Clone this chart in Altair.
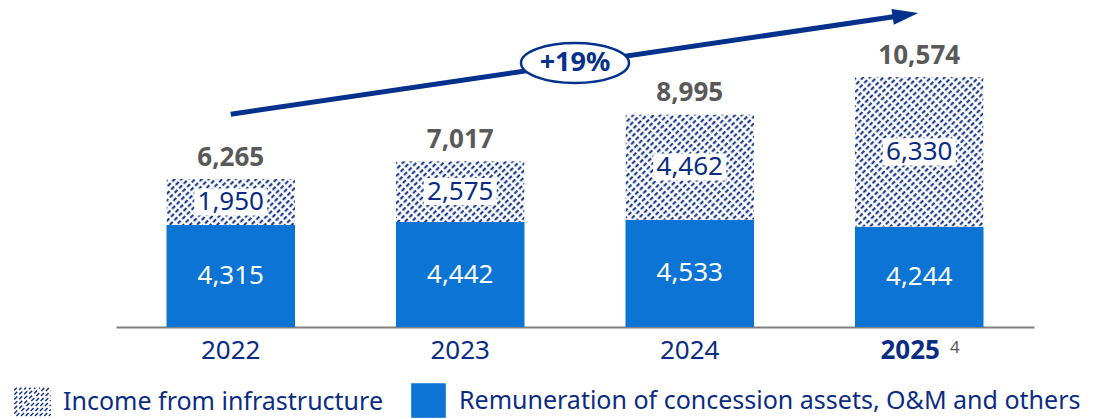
import urllib.parse
import altair as alt
import pandas as pd

# ---------------- data ----------------
years = ["2022", "2023", "2024", "2025"]
remuneration = [4315, 4442, 4533, 4244]
infrastructure = [1950, 2575, 4462, 6330]
totals = [6265, 7017, 8995, 10574]
series_names = ["Income from infrastructure",
                "Remuneration of concession assets, O&M and others"]
growth_label = ["+19%"]
footnote_label = ["4"]

# annotation anchors (in data units of the chart scales)
arrow_x = [0.5]
arrow_x2 = [3.44]
arrow_y = [9000]
arrow_y2 = [13200]
growth_x = [2.0]
growth_y = [11170]
footnote_x = [3.655]
footnote_y = [0]

# ---------------- style ----------------
NAVY = "#0B2C83"
ARROW = "#03318C"
BLUE = "#0B74D4"
GRAY = "#595959"
AXIS = "#7F7F7F"
FONT = "Noto Sans"

hatch_svg = (
    "<svg xmlns='http://www.w3.org/2000/svg'>"
    "<defs><pattern id='h' width='4.8' height='6.5' patternUnits='userSpaceOnUse' "
    "patternTransform='rotate(45)'>"
    "<line x1='1.2' y1='0' x2='1.2' y2='6.5' stroke='#0A2C85' stroke-width='2' "
    "stroke-dasharray='4.2 2.3'/></pattern></defs>"
    "<rect width='100%' height='100%' fill='white'/>"
    "<rect width='100%' height='100%' fill='url(#h)'/></svg>"
)
hatch_url = "data:image/svg+xml;charset=utf-8," + urllib.parse.quote(hatch_svg)

# hatched legend icon as a custom symbol path of diagonal dashes
xmin, xmax, ymin, ymax = -1.1, 1.1, -0.85, 0.85
segs = []
c = xmin + ymin + 0.15
while c < xmax + ymax:
    x0 = max(xmin, c - ymax)
    x1 = min(xmax, c - ymin)
    x = x0
    while x < x1:
        xe = min(x + 0.18, x1)
        segs.append(f"M{x:.3f},{c - x:.3f}L{xe:.3f},{c - xe:.3f}")
        x = xe + 0.12
    c += 0.28
hatch_path = "".join(segs)

box_path = "M-1,-0.37H1V0.37H-1Z"
ellipse_path = "M-1,0A1,0.37,0,1,1,1,0A1,0.37,0,1,1,-1,0Z"
head_path = "M-1,-0.62L1,0L-1,0.62Z"

# ---------------- tables ----------------
df = pd.DataFrame({"year": years, "rem": remuneration,
                   "infra": infrastructure, "total": totals})
df["rem_mid"] = df["rem"] / 2
df["infra_mid"] = df["rem"] + df["infra"] / 2

legend_df = pd.DataFrame({"series": series_names,
                          "year": [years[0]] * 2, "v": [1000, 1000]})
arrow_df = pd.DataFrame({"x": arrow_x, "x2": arrow_x2, "y": arrow_y, "y2": arrow_y2})
growth_df = pd.DataFrame({"x": growth_x, "y": growth_y, "label": growth_label})
foot_df = pd.DataFrame({"x": footnote_x, "y": footnote_y, "label": footnote_label})

# ---------------- encodings ----------------
yscale = alt.Scale(domain=[0, 13411], nice=False, zero=True)


def Y(field):
    return alt.Y(field, type="quantitative", scale=yscale, axis=None)


xenc = alt.X(
    "year:N", sort=years, title=None,
    scale=alt.Scale(domain=years, paddingInner=0.44, paddingOuter=0.22),
    axis=alt.Axis(
        ticks=False, grid=False, domainColor=AXIS, domainWidth=2,
        labelFont=FONT, labelFontSize=26, labelColor=NAVY, labelPadding=10,
        labelAngle=0,
        labelFontWeight={"condition": {"test": "datum.value === '2025'", "value": "bold"},
                         "value": "normal"},
        labelOffset={"condition": {"test": "datum.value === '2025'", "value": -9},
                     "value": 0},
    ),
)


def AX(field):
    return alt.X(field, type="quantitative",
                 scale=alt.Scale(domain=[0, 4], nice=False, zero=False), axis=None)


legend = alt.Legend(
    title=None, orient="none", legendX=-101, legendY=373,
    direction="horizontal", columns=2, symbolSize=1100, symbolStrokeWidth=1.4,
    labelFont=FONT, labelFontSize=25, labelColor=NAVY, labelLimit=1000,
    columnPadding=26, labelOffset=13, padding=0,
)

legend_layer = alt.Chart(legend_df).mark_point(filled=True, size=30, opacity=1).encode(
    x=xenc, y=Y("v"),
    fill=alt.Fill("series:N", scale=alt.Scale(domain=series_names, range=["white", BLUE]),
                  legend=legend),
    stroke=alt.Stroke("series:N", scale=alt.Scale(domain=series_names, range=[NAVY, BLUE]),
                      legend=legend),
    shape=alt.Shape("series:N", scale=alt.Scale(domain=series_names,
                                                range=[hatch_path, "square"]),
                    legend=legend),
)

base = alt.Chart(df)
bars = base.mark_bar(color=BLUE).encode(x=xenc, y=Y("rem"))
hatch = base.mark_image(url=hatch_url, aspect=False).encode(
    x=xenc, y=Y("total"), y2="rem")
boxes = base.mark_point(shape=box_path, size=5329, filled=True, fill="white",
                        opacity=1, strokeWidth=0).encode(x=xenc, y=Y("infra_mid"))
rem_text = base.mark_text(font=FONT, fontSize=26, color="white").encode(
    x=xenc, y=Y("rem_mid"), text=alt.Text("rem:Q", format=","))
infra_text = base.mark_text(font=FONT, fontSize=26, color=NAVY).encode(
    x=xenc, y=Y("infra_mid"), text=alt.Text("infra:Q", format=","))
total_text = base.mark_text(font=FONT, fontSize=26, fontWeight="bold", color=GRAY,
                            baseline="alphabetic", dy=-13).encode(
    x=xenc, y=Y("total"), text=alt.Text("total:Q", format=","))

main = alt.layer(legend_layer, bars, hatch, boxes, rem_text, infra_text, total_text)

rule = alt.Chart(arrow_df).mark_rule(color=ARROW, strokeWidth=5).encode(
    x=AX("x"), x2="x2", y=Y("y"), y2="y2")
head = alt.Chart(arrow_df).mark_point(shape=head_path, size=676, filled=True,
                                      color=ARROW, opacity=1, angle=351.7).encode(
    x=AX("x2"), y=Y("y2"))
ellipse = alt.Chart(growth_df).mark_point(shape=ellipse_path, size=11664, filled=True,
                                          fill="white", stroke=ARROW, strokeWidth=2.5,
                                          opacity=1).encode(x=AX("x"), y=Y("y"))
growth = alt.Chart(growth_df).mark_text(font=FONT, fontSize=27, fontWeight="bold",
                                        color=ARROW).encode(
    x=AX("x"), y=Y("y"), text="label:N")
foot = alt.Chart(foot_df).mark_text(font=FONT, fontSize=17, color=GRAY, dy=21).encode(
    x=AX("x"), y=Y("y"), text="label:N")

annot = alt.layer(rule, head, ellipse, growth, foot)

chart = alt.layer(main, annot).resolve_scale(x="independent").properties(
    width=918, height=317,
    padding={"left": 108, "top": 2, "right": 50, "bottom": 92},
    autosize=alt.AutoSizeParams(type="none"),
).configure_view(stroke=None)

chart.save("out.html", embed_options={"renderer": "svg", "actions": False})
